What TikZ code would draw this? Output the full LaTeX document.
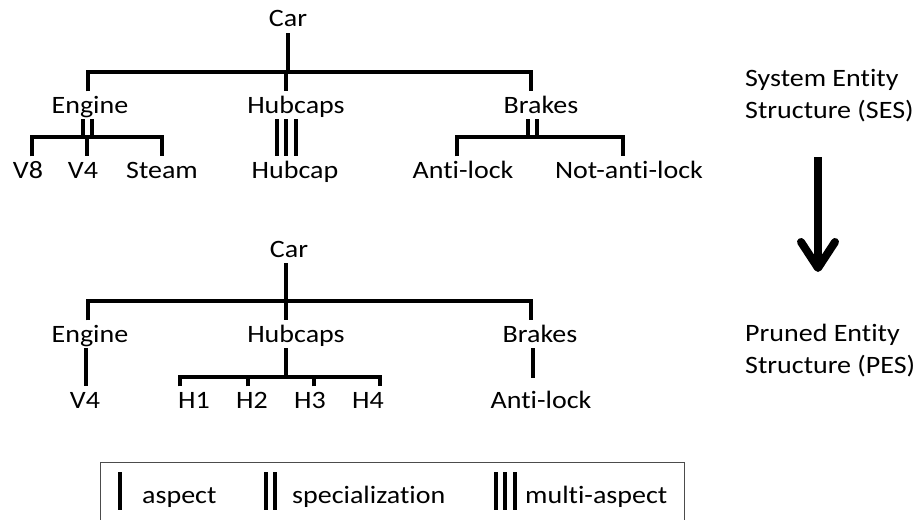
\documentclass[tikz,border=0pt]{standalone}
\usepackage{fontspec}
\setmainfont[FakeStretch=1.12, Ligatures=NoCommon]{Carlito}
\usetikzlibrary{arrows.meta}

\begin{document}
\begin{tikzpicture}[
        x=1pt, y=-1pt,
        every node/.style={font=\fontsize{25}{32}\selectfont},
        lbl/.style={anchor=base, inner xsep=2pt, inner ysep=6pt, text height=15.5pt, text depth=0pt},
        note/.style={anchor=base west, align=left, inner sep=0pt},
        link/.style={draw, line width=4pt},
        spec/.style={link, double, double distance=5pt},
        multi/.style={link, double, double distance=15pt},
        bigarrow/.style={line width=8pt, -{Straight Barb[length=26pt,width=34pt,round]}},
        legendbox/.style={draw=black!70, line width=1.3pt, minimum width=584pt, minimum height=64pt, anchor=north west},
    ]
    \useasboundingbox (0,0) rectangle (917,519);
    % SES tree
    \node[lbl](sCar) at (288,27){Car};
    \node[lbl](sEngine) at (90,113){Engine};
    \node[lbl](sHubcaps) at (296,113){Hubcaps};
    \node[lbl](sBrakes) at (541,113){Brakes};
    \node[lbl](sV8) at (28,178){V8};
    \node[lbl](sV4) at (83,178){V4};
    \node[lbl](sSteam) at (162,178){Steam};
    \node[lbl](sHubcap) at (295,178){Hubcap};
    \node[lbl](sAntilock) at (463,178){Anti-lock};
    \node[lbl](sNotantilock) at (629,178){Not-anti-lock};
    \coordinate (sTop) at (286,72);
    \coordinate (sEngBar) at (87,137);
    \coordinate (sBrkBar) at (532,137);
    \draw[link] (sCar.south) -- (sCar.south |- sTop);
    \draw[link] ([xshift=-2pt]sEngine.north) |- (sTop) -| ([xshift=-10pt]sBrakes.north);
    \draw[link] (sTop) -- ([xshift=-10pt]sHubcaps.north);
    \draw[spec] ([xshift=-3pt]sEngine.south) -- (sEngBar);
    \draw[link] ([xshift=4pt]sV8.north) |- (sEngBar) -| (sSteam.north);
    \draw[link] (sEngBar) -- (sEngBar |- sV4.north);
    \draw[multi] ([xshift=-10pt]sHubcaps.south) -- ([xshift=-9pt]sHubcap.north);
    \draw[link] ([xshift=-10pt]sHubcaps.south) -- ([xshift=-9pt]sHubcap.north);
    \draw[spec] ([xshift=-9pt]sBrakes.south) -- (sBrkBar);
    \draw[link] ([xshift=-6pt]sAntilock.north) |- (sBrkBar) -| ([xshift=-6pt]sNotantilock.north);
    % PES tree
    \node[lbl](pCar) at (289,257){Car};
    \node[lbl](pEngine) at (90,342){Engine};
    \node[lbl](pHubcaps) at (296,342){Hubcaps};
    \node[lbl](pBrakes) at (540,342){Brakes};
    \node[lbl](pV4) at (85,408){V4};
    \node[lbl](pH1) at (194,408){H1};
    \node[lbl](pH2) at (252,408){H2};
    \node[lbl](pH3) at (310,408){H3};
    \node[lbl](pH4) at (368,408){H4};
    \node[lbl](pAntilock) at (541,408){Anti-lock};
    \coordinate (pTop) at (286,301);
    \coordinate (pHubBar) at (286,377);
    \draw[link] ([xshift=-3pt]pCar.south) -- (pTop);
    \draw[link] ([xshift=-2pt]pEngine.north) |- (pTop) -| ([xshift=-9pt]pBrakes.north);
    \draw[link] (pTop) -- ([xshift=-10pt]pHubcaps.north);
    \draw[link] ([xshift=-4pt]pEngine.south) -- ([xshift=1pt]pV4.north);
    \draw[link] ([xshift=-10pt]pHubcaps.south) -- (pHubBar);
    \draw[link] ([xshift=-14pt]pH1.north) |- (pHubBar) -| ([xshift=12pt]pH4.north);
    \draw[link] ([xshift=-4pt]pH2.north) -- ([xshift=-4pt]pH2.north |- pHubBar);
    \draw[link] ([xshift=4pt]pH3.north) -- ([xshift=4pt]pH3.north |- pHubBar);
    \draw[link, shorten >=8pt] ([xshift=-7pt]pBrakes.south) -- ([xshift=-8pt]pAntilock.north);
    % side notes
    \node[note](sesNote) at (745,118){System Entity\\Structure (SES)};
    \node[note](pesNote) at (745,373){Pruned Entity\\Structure (PES)};
    \coordinate (arrTop) at (818,157);
    \coordinate (arrTip) at (818,272);
    \draw[bigarrow] (arrTop) -- (arrTip);
    % legend
    \node[legendbox](legend) at (100,462){};
    \node[note](lgAspect) at (142,503){aspect};
    \node[note](lgSpec) at (292,503){specialization};
    \node[note](lgMulti) at (525,503){multi-aspect};
    \draw[link] ([shift={(-22,-31)}]lgAspect.base west) -- ([shift={(-22,7)}]lgAspect.base west);
    \draw[spec] ([shift={(-21.5,-31)}]lgSpec.base west) -- ([shift={(-21.5,7)}]lgSpec.base west);
    \draw[multi] ([shift={(-20,-31)}]lgMulti.base west) -- ([shift={(-20,7)}]lgMulti.base west);
    \draw[link] ([shift={(-20,-31)}]lgMulti.base west) -- ([shift={(-20,7)}]lgMulti.base west);
\end{tikzpicture}
\end{document}
